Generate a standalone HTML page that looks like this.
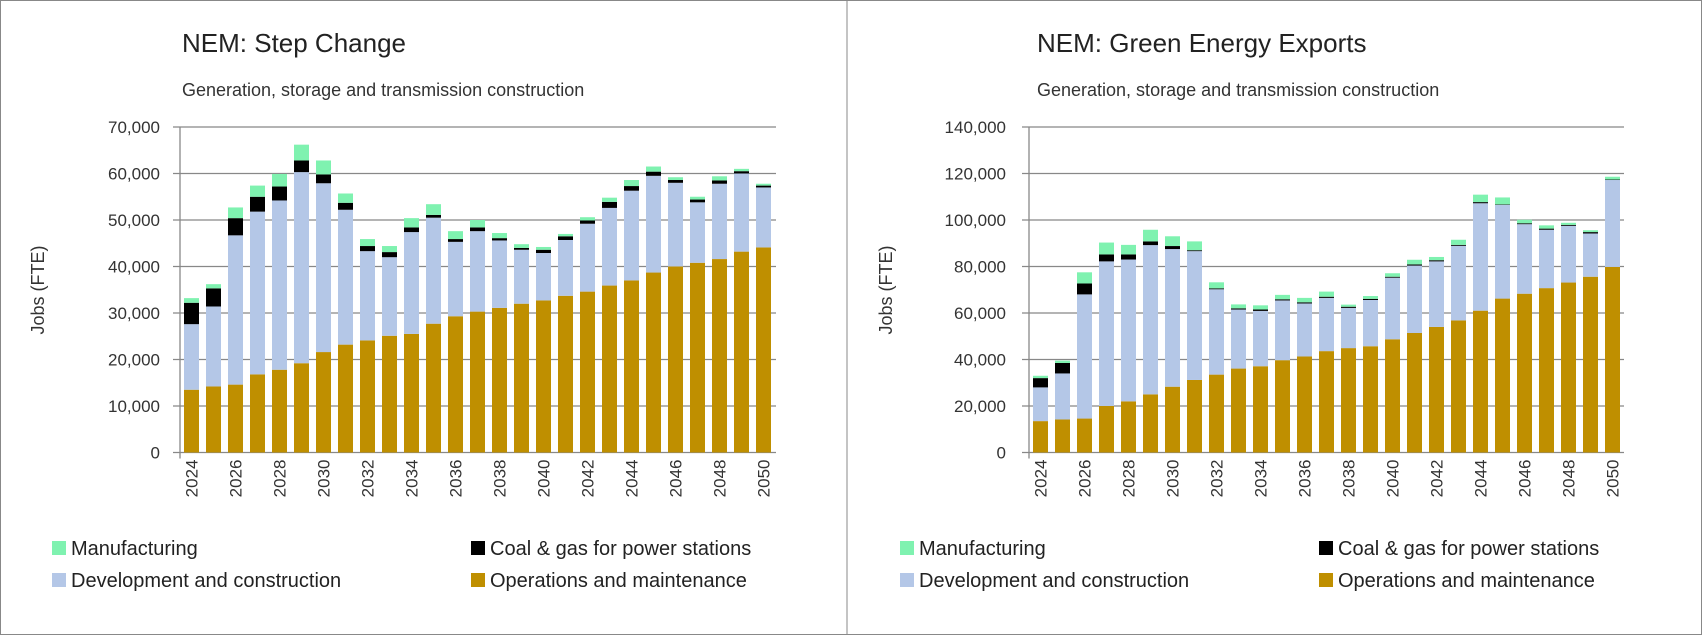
<!DOCTYPE html>
<html><head><meta charset="utf-8"><style>
html,body{margin:0;padding:0;background:#fff;}
svg{display:block;font-family:"Liberation Sans",sans-serif;}
</style></head><body>
<svg id="root" width="1702" height="635" viewBox="0 0 1702 635" xmlns="http://www.w3.org/2000/svg">
<rect x="0.5" y="0.5" width="1701" height="634" fill="#fff" stroke="#888"/>
<line x1="847" y1="0" x2="847" y2="635" stroke="#888"/>
</svg>
<script>
// Shared categories
const years = [2024,2025,2026,2027,2028,2029,2030,2031,2032,2033,2034,2035,2036,2037,2038,2039,2040,2041,2042,2043,2044,2045,2046,2047,2048,2049,2050];
// Step Change cumulative stack tops (thousand FTE)
const scOM   = [13.5,14.2,14.6,16.8,17.8,19.2,21.6,23.2,24.1,25.1,25.5,27.7,29.3,30.3,31.1,32.0,32.7,33.7,34.6,35.9,37.0,38.7,40.0,40.8,41.6,43.2,44.1];
const scDev  = [27.6,31.4,46.7,51.8,54.2,60.3,57.9,52.2,43.3,42.0,47.4,50.5,45.3,47.6,45.6,43.6,42.9,45.7,49.2,52.6,56.3,59.5,58.0,53.8,57.8,60.0,57.0];
const scCoal = [32.2,35.3,50.4,55.0,57.2,62.8,59.8,53.7,44.4,43.1,48.4,51.1,45.9,48.4,46.1,44.0,43.6,46.5,49.9,53.9,57.3,60.4,58.6,54.4,58.5,60.5,57.4];
const scMfg  = [33.2,36.2,52.7,57.4,59.9,66.2,62.8,55.7,45.9,44.4,50.4,53.4,47.6,50.0,47.2,44.8,44.2,47.0,50.6,54.8,58.6,61.5,59.2,55.0,59.4,61.0,57.8];
// Green Energy Exports cumulative stack tops (thousand FTE)
const geOM   = [13.5,14.2,14.6,20.0,22.0,25.0,28.3,31.2,33.5,36.1,37.1,39.7,41.3,43.6,44.9,45.7,48.7,51.4,54.0,56.8,61.0,66.2,68.3,70.7,73.1,75.6,79.8];
const geDev  = [28.0,34.0,68.0,82.2,83.0,89.2,87.5,86.6,70.2,61.5,60.9,65.4,64.1,66.5,62.2,65.6,75.2,80.4,82.2,88.9,107.2,106.5,98.2,95.8,97.5,94.2,117.2];
const geCoal = [32.0,38.5,72.7,85.2,85.2,90.8,88.8,87.0,70.6,62.0,61.5,65.9,64.6,67.0,62.7,66.1,75.6,80.9,82.7,89.3,107.7,106.7,98.6,96.3,97.9,94.8,117.4];
const geMfg  = [33.0,39.5,77.5,90.3,89.3,95.8,93.0,90.8,73.2,63.7,63.3,67.8,66.5,69.2,63.6,67.3,77.1,82.9,84.1,91.5,110.9,109.7,100.1,97.7,98.8,95.6,118.6];
const scTicks = [0,10000,20000,30000,40000,50000,60000,70000];
const geTicks = [0,20000,40000,60000,80000,100000,120000,140000];
const seriesNames = ["Manufacturing","Coal & gas for power stations","Development and construction","Operations and maintenance"];
const colors = {om:"#BF8F00",dev:"#B4C7E7",coal:"#000000",mfg:"#7FF2B0"};

const NS="http://www.w3.org/2000/svg";
const root=document.getElementById('root');
function mk(tag,attrs,parent){const e=document.createElementNS(NS,tag);for(const k in attrs)e.setAttribute(k,attrs[k]);(parent||root).appendChild(e);return e;}

function panel(cfg){
  const g=mk('g',{});
  
  
  const y0=452.5, yTop=127, maxV=cfg.ticks[cfg.ticks.length-1];
  const yS=v=>y0-(v/maxV)*(y0-yTop);
  const xS=i=>cfg.x0+i*22;
  const t=mk('text',{x:cfg.tx,y:52,'font-size':26,fill:'#222'},g);t.textContent=cfg.title;
  
  
  const st=mk('text',{x:cfg.tx,y:96,'font-size':18,fill:'#333'},g);st.textContent="Generation, storage and transmission construction";
  
  
  cfg.ticks.forEach(v=>{
    const gl=mk('line',{x1:cfg.axis-7,x2:cfg.gridEnd,y1:yS(v),y2:yS(v),stroke:'#888','stroke-width':1.3},g);
    
    
    const tl=mk('text',{x:cfg.labelX,y:yS(v)+6,'font-size':17,'text-anchor':'end',fill:'#333'},g);
    tl.textContent=v.toLocaleString('en-US');
    
    
  });
  const ax=mk('line',{x1:cfg.axis,x2:cfg.axis,y1:yTop,y2:y0+6,stroke:'#888','stroke-width':1.3},g);
  
  
  const yt=mk('text',{x:0,y:0,'font-size':18,'text-anchor':'middle',fill:'#333',transform:`translate(${cfg.ytX},290) rotate(-90)`},g);
  yt.textContent="Jobs (FTE)";
  
  
  const w=15;
  years.forEach((yr,i)=>{
    const cx=xS(i);
    const segs=[[0,cfg.om[i],colors.om,'bar-om'],[cfg.om[i],cfg.dev[i],colors.dev,'bar-dev'],[cfg.dev[i],cfg.coal[i],colors.coal,'bar-coal'],[cfg.coal[i],cfg.mfg[i],colors.mfg,'bar-mfg']];
    segs.forEach(s=>{
      const a=yS(s[0]*1000),b=yS(s[1]*1000);
      const r=mk('rect',{x:cx-w/2,y:b,width:w,height:Math.max(0,a-b),fill:s[2]},g);
      
      
    });
    if(yr%2===0){
      const xl=mk('text',{x:0,y:0,'font-size':17,'text-anchor':'end',fill:'#333',transform:`translate(${cx+6},${y0+7}) rotate(-90)`},g);
      xl.textContent=yr;
      
      
    }
  });
  const leg=[[cfg.lx1,554,colors.mfg,seriesNames[0]],[cfg.lx2,554,colors.coal,seriesNames[1]],[cfg.lx1,586,colors.dev,seriesNames[2]],[cfg.lx2,586,colors.om,seriesNames[3]]];
  leg.forEach(l=>{
    const sq=mk('rect',{x:l[0],y:l[1]-13,width:14,height:14,fill:l[2]},g);
    
    
    const lt=mk('text',{x:l[0]+19,y:l[1]+1,'font-size':20,fill:'#222'},g);
    lt.textContent=l[3];
    
    
  });
}
panel({name:'step-change-chart',title:'NEM: Step Change',tx:182,x0:191.5,axis:180,gridEnd:776,labelX:160,ytX:44,ticks:scTicks,om:scOM,dev:scDev,coal:scCoal,mfg:scMfg,lx1:52,lx2:471});
panel({name:'green-energy-exports-chart',title:'NEM: Green Energy Exports',tx:1037,x0:1040.5,axis:1029,gridEnd:1624,labelX:1006,ytX:892,ticks:geTicks,om:geOM,dev:geDev,coal:geCoal,mfg:geMfg,lx1:900,lx2:1319});
</script>
</body></html>
